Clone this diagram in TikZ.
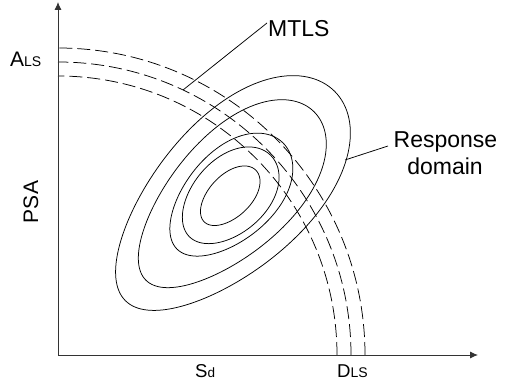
\documentclass[tikz,border=0pt]{standalone}
\usepackage{fontspec}
\setmainfont{Liberation Sans}
\usetikzlibrary{arrows.meta}
\begin{document}
\begin{tikzpicture}[x=1pt,y=1pt,
  axisline/.style={line width=0.9pt,black!80,-{Latex[length=8pt,width=7pt]}},
  curve/.style={line width=0.75pt,black,line join=round},
  lsline/.style={line width=0.75pt,black,dash pattern=on 13pt off 5pt},
  leader/.style={line width=0.75pt,black},
  lbl/.style={inner sep=0pt,font=\fontsize{23}{27}\selectfont},
  axlbl/.style={inner sep=0pt}]
\useasboundingbox (0,0) rectangle (507,386);
\coordinate (O) at (58,31);
\coordinate (C) at (230,190);
\coordinate (ytip) at (58,384);
\coordinate (xtip) at (478,31);
% dashed limit-state curves
\foreach \r in {279,293,307}{
  \draw[lsline] (58+\r,31) arc[start angle=0,end angle=90,radius=\r];
}
% response domain contours (slightly egg-shaped)
\foreach \a/\b/\k in {36.5/21/0.04,57.5/37/0.06,75/44/0.1,119/59/0.14,148/75/0.14}{
  \draw[curve,shift={(230,190)},rotate=45]
    plot[domain=0:360,samples=145] ({\a*cos(\x)},{\b*sin(\x)*(1+\k*cos(\x))}) -- cycle;
}
% axes
\draw[axisline] (O) -- (ytip);
\draw[axisline] (O) -- (xtip);
% labels
\node[axlbl,anchor=base west] (als) at (10,319) {\fontsize{21}{24}\selectfont A\fontsize{14}{16}\selectfont LS};
\node[axlbl,anchor=base west] (sd) at (195,8) {\fontsize{18.6}{22}\selectfont S\fontsize{13.5}{16}\selectfont d};
\node[axlbl,anchor=base west] (dls) at (337,8) {\fontsize{18.6}{22}\selectfont D\fontsize{14}{16}\selectfont LS};
\node[axlbl,anchor=base,rotate=90] (psa) at (38,184) {\fontsize{21}{24}\selectfont PSA};
% MTLS
\node[lbl,anchor=base west] (mtls) at (268,349) {MTLS};
\coordinate (m1) at (183,296);
\coordinate (m2) at (267,363);
\draw[leader] (m1) -- (m2);
% Response domain
\node[lbl,anchor=base] (resp) at (445.5,238) {Response};
\node[lbl,anchor=base] (dom) at (445,211) {domain};
\coordinate (r1) at (345,226);
\coordinate (r2) at (388,240);
\draw[leader] (r1) -- (r2);
\end{tikzpicture}
\end{document}
